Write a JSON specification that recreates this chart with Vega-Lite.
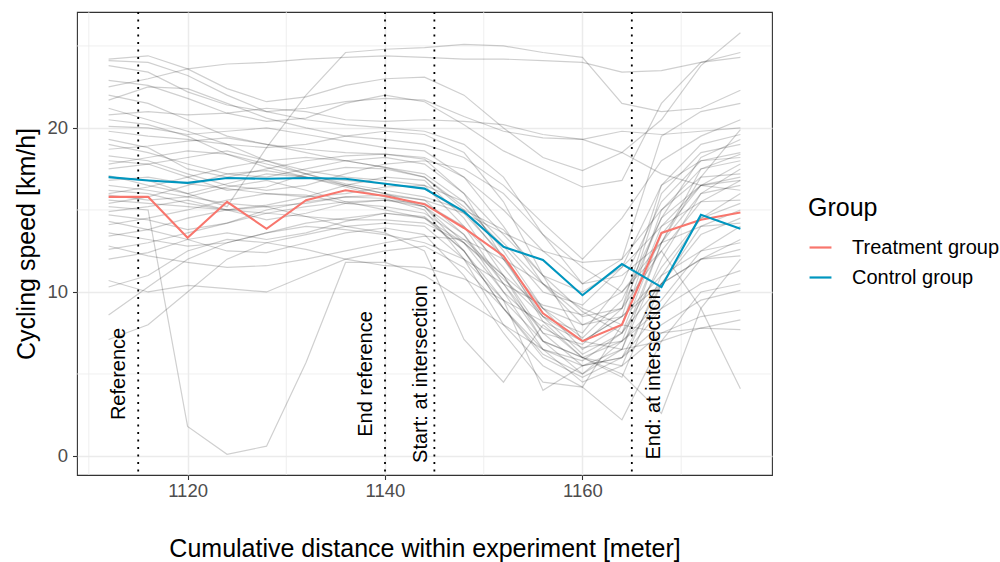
{
"$schema":"https://vega.github.io/schema/vega-lite/v6.json",
"width":695,"height":463,
"autosize":{"type":"none"},
"padding":{"left":77,"top":12,"right":228,"bottom":87},
"config":{"font":"Liberation Sans","view":{"stroke":"#333333","strokeWidth":1.1},
"axis":{"domain":false,"gridColor":"#EBEBEB","gridWidth":1.5,"tickColor":"#333333","tickWidth":1.1,"tickSize":4.5,"labelColor":"#4D4D4D","labelFontSize":18.5,"titleFontSize":25,"titleFontWeight":"normal","titleColor":"#000000"},
"axisX":{"labelPadding":2,"titlePadding":36},
"axisY":{"labelPadding":5,"titlePadding":7}},
"datasets":{
"gray":[
{"id":1,"x":1112,"y":24.2},{"id":1,"x":1116,"y":24.4},{"id":1,"x":1120,"y":23.6},{"id":1,"x":1124,"y":22.4},{"id":1,"x":1128,"y":21.6},{"id":1,"x":1132,"y":21.9},{"id":1,"x":1136,"y":22.6},{"id":1,"x":1140,"y":23.0},{"id":1,"x":1144,"y":23.1},{"id":1,"x":1148,"y":22.0},{"id":1,"x":1152,"y":20.0},{"id":1,"x":1156,"y":18.2},{"id":1,"x":1160,"y":17.4},{"id":1,"x":1164,"y":18.5},{"id":1,"x":1168,"y":20.5},{"id":1,"x":1172,"y":23.8},{"id":1,"x":1176,"y":25.8},
{"id":2,"x":1112,"y":23.8},{"id":2,"x":1116,"y":23.4},{"id":2,"x":1120,"y":22.2},{"id":2,"x":1124,"y":21.4},{"id":2,"x":1128,"y":21.0},{"id":2,"x":1132,"y":21.2},{"id":2,"x":1136,"y":21.6},{"id":2,"x":1140,"y":21.8},{"id":2,"x":1144,"y":21.7},{"id":2,"x":1148,"y":20.7},{"id":2,"x":1152,"y":19.8},{"id":2,"x":1156,"y":19.4},{"id":2,"x":1160,"y":19.3},{"id":2,"x":1164,"y":19.8},{"id":2,"x":1168,"y":19.6},{"id":2,"x":1172,"y":19.8},{"id":2,"x":1176,"y":20.0},
{"id":3,"x":1112,"y":22.9},{"id":3,"x":1116,"y":22.6},{"id":3,"x":1120,"y":21.8},{"id":3,"x":1124,"y":20.9},{"id":3,"x":1128,"y":20.4},{"id":3,"x":1132,"y":20.6},{"id":3,"x":1136,"y":21.5},{"id":3,"x":1140,"y":22.0},{"id":3,"x":1144,"y":21.6},{"id":3,"x":1148,"y":20.2},{"id":3,"x":1152,"y":18.6},{"id":3,"x":1156,"y":17.5},{"id":3,"x":1160,"y":16.4},{"id":3,"x":1164,"y":16.8},{"id":3,"x":1168,"y":21.5},{"id":3,"x":1172,"y":24.0},{"id":3,"x":1176,"y":24.3},
{"id":4,"x":1112,"y":17.0},{"id":4,"x":1116,"y":16.8},{"id":4,"x":1120,"y":16.0},{"id":4,"x":1124,"y":15.2},{"id":4,"x":1128,"y":18.8},{"id":4,"x":1132,"y":22.0},{"id":4,"x":1136,"y":24.6},{"id":4,"x":1140,"y":24.8},{"id":4,"x":1144,"y":24.9},{"id":4,"x":1148,"y":25.1},{"id":4,"x":1152,"y":25.0},{"id":4,"x":1156,"y":24.6},{"id":4,"x":1160,"y":24.3},{"id":4,"x":1164,"y":21.5},{"id":4,"x":1168,"y":21.0},{"id":4,"x":1172,"y":21.2},{"id":4,"x":1176,"y":22.3},
{"id":5,"x":1112,"y":22.5},{"id":5,"x":1116,"y":23.0},{"id":5,"x":1120,"y":23.6},{"id":5,"x":1124,"y":23.9},{"id":5,"x":1128,"y":24.0},{"id":5,"x":1132,"y":24.2},{"id":5,"x":1136,"y":24.3},{"id":5,"x":1140,"y":24.4},{"id":5,"x":1144,"y":24.3},{"id":5,"x":1148,"y":24.2},{"id":5,"x":1152,"y":24.2},{"id":5,"x":1156,"y":24.1},{"id":5,"x":1160,"y":24.0},{"id":5,"x":1164,"y":23.4},{"id":5,"x":1168,"y":23.5},{"id":5,"x":1172,"y":24.0},{"id":5,"x":1176,"y":24.6},
{"id":6,"x":1112,"y":24.1},{"id":6,"x":1116,"y":24.0},{"id":6,"x":1120,"y":23.2},{"id":6,"x":1124,"y":22.0},{"id":6,"x":1128,"y":21.0},{"id":6,"x":1132,"y":20.5},{"id":6,"x":1136,"y":20.2},{"id":6,"x":1140,"y":20.0},{"id":6,"x":1144,"y":19.8},{"id":6,"x":1148,"y":19.0},{"id":6,"x":1152,"y":17.0},{"id":6,"x":1156,"y":13.5},{"id":6,"x":1160,"y":10.5},{"id":6,"x":1164,"y":12.0},{"id":6,"x":1168,"y":19.5},{"id":6,"x":1172,"y":21.0},{"id":6,"x":1176,"y":21.5},
{"id":7,"x":1112,"y":21.7},{"id":7,"x":1116,"y":22.5},{"id":7,"x":1120,"y":22.4},{"id":7,"x":1124,"y":21.5},{"id":7,"x":1128,"y":20.6},{"id":7,"x":1132,"y":20.0},{"id":7,"x":1136,"y":19.5},{"id":7,"x":1140,"y":19.3},{"id":7,"x":1144,"y":19.0},{"id":7,"x":1148,"y":18.2},{"id":7,"x":1152,"y":16.5},{"id":7,"x":1156,"y":14.2},{"id":7,"x":1160,"y":12.0},{"id":7,"x":1164,"y":14.5},{"id":7,"x":1168,"y":18.0},{"id":7,"x":1172,"y":19.5},{"id":7,"x":1176,"y":20.5},
{"id":8,"x":1112,"y":20.8},{"id":8,"x":1116,"y":21.0},{"id":8,"x":1120,"y":20.8},{"id":8,"x":1124,"y":20.9},{"id":8,"x":1128,"y":21.2},{"id":8,"x":1132,"y":21.0},{"id":8,"x":1136,"y":20.5},{"id":8,"x":1140,"y":20.4},{"id":8,"x":1144,"y":20.5},{"id":8,"x":1148,"y":20.4},{"id":8,"x":1152,"y":20.2},{"id":8,"x":1156,"y":19.6},{"id":8,"x":1160,"y":19.3},{"id":8,"x":1164,"y":18.5},{"id":8,"x":1168,"y":17.2},{"id":8,"x":1172,"y":16.5},{"id":8,"x":1176,"y":16.2},
{"id":9,"x":1112,"y":20.1},{"id":9,"x":1116,"y":20.0},{"id":9,"x":1120,"y":19.6},{"id":9,"x":1124,"y":19.8},{"id":9,"x":1128,"y":20.0},{"id":9,"x":1132,"y":19.6},{"id":9,"x":1136,"y":19.2},{"id":9,"x":1140,"y":18.8},{"id":9,"x":1144,"y":18.6},{"id":9,"x":1148,"y":17.0},{"id":9,"x":1152,"y":14.0},{"id":9,"x":1156,"y":10.5},{"id":9,"x":1160,"y":8.0},{"id":9,"x":1164,"y":9.0},{"id":9,"x":1168,"y":14.5},{"id":9,"x":1172,"y":18.2},{"id":9,"x":1176,"y":19.3},
{"id":10,"x":1112,"y":19.8},{"id":10,"x":1116,"y":19.5},{"id":10,"x":1120,"y":19.3},{"id":10,"x":1124,"y":19.0},{"id":10,"x":1128,"y":18.8},{"id":10,"x":1132,"y":19.0},{"id":10,"x":1136,"y":19.5},{"id":10,"x":1140,"y":19.8},{"id":10,"x":1144,"y":19.6},{"id":10,"x":1148,"y":18.5},{"id":10,"x":1152,"y":15.5},{"id":10,"x":1156,"y":11.0},{"id":10,"x":1160,"y":7.0},{"id":10,"x":1164,"y":8.5},{"id":10,"x":1168,"y":16.0},{"id":10,"x":1172,"y":18.5},{"id":10,"x":1176,"y":19.0},
{"id":11,"x":1112,"y":19.3},{"id":11,"x":1116,"y":18.8},{"id":11,"x":1120,"y":17.5},{"id":11,"x":1124,"y":17.0},{"id":11,"x":1128,"y":17.5},{"id":11,"x":1132,"y":18.0},{"id":11,"x":1136,"y":18.3},{"id":11,"x":1140,"y":18.4},{"id":11,"x":1144,"y":18.1},{"id":11,"x":1148,"y":16.0},{"id":11,"x":1152,"y":12.0},{"id":11,"x":1156,"y":8.5},{"id":11,"x":1160,"y":6.2},{"id":11,"x":1164,"y":7.5},{"id":11,"x":1168,"y":13.5},{"id":11,"x":1172,"y":16.5},{"id":11,"x":1176,"y":17.8},
{"id":12,"x":1112,"y":18.7},{"id":12,"x":1116,"y":18.9},{"id":12,"x":1120,"y":19.2},{"id":12,"x":1124,"y":19.4},{"id":12,"x":1128,"y":19.0},{"id":12,"x":1132,"y":18.5},{"id":12,"x":1136,"y":18.0},{"id":12,"x":1140,"y":17.6},{"id":12,"x":1144,"y":17.2},{"id":12,"x":1148,"y":15.5},{"id":12,"x":1152,"y":12.5},{"id":12,"x":1156,"y":9.0},{"id":12,"x":1160,"y":6.5},{"id":12,"x":1164,"y":8.0},{"id":12,"x":1168,"y":15.0},{"id":12,"x":1172,"y":17.5},{"id":12,"x":1176,"y":18.0},
{"id":13,"x":1112,"y":18.0},{"id":13,"x":1116,"y":17.8},{"id":13,"x":1120,"y":18.2},{"id":13,"x":1124,"y":18.6},{"id":13,"x":1128,"y":18.0},{"id":13,"x":1132,"y":17.4},{"id":13,"x":1136,"y":17.0},{"id":13,"x":1140,"y":16.8},{"id":13,"x":1144,"y":16.5},{"id":13,"x":1148,"y":14.0},{"id":13,"x":1152,"y":10.5},{"id":13,"x":1156,"y":7.5},{"id":13,"x":1160,"y":5.5},{"id":13,"x":1164,"y":6.5},{"id":13,"x":1168,"y":12.0},{"id":13,"x":1172,"y":16.0},{"id":13,"x":1176,"y":17.5},
{"id":14,"x":1112,"y":17.5},{"id":14,"x":1116,"y":17.8},{"id":14,"x":1120,"y":17.0},{"id":14,"x":1124,"y":16.2},{"id":14,"x":1128,"y":16.4},{"id":14,"x":1132,"y":17.2},{"id":14,"x":1136,"y":17.6},{"id":14,"x":1140,"y":17.5},{"id":14,"x":1144,"y":17.0},{"id":14,"x":1148,"y":15.0},{"id":14,"x":1152,"y":12.0},{"id":14,"x":1156,"y":9.0},{"id":14,"x":1160,"y":7.2},{"id":14,"x":1164,"y":9.5},{"id":14,"x":1168,"y":14.5},{"id":14,"x":1172,"y":16.5},{"id":14,"x":1176,"y":16.8},
{"id":15,"x":1112,"y":17.1},{"id":15,"x":1116,"y":16.5},{"id":15,"x":1120,"y":16.0},{"id":15,"x":1124,"y":16.6},{"id":15,"x":1128,"y":17.2},{"id":15,"x":1132,"y":17.0},{"id":15,"x":1136,"y":16.5},{"id":15,"x":1140,"y":16.0},{"id":15,"x":1144,"y":15.6},{"id":15,"x":1148,"y":13.5},{"id":15,"x":1152,"y":10.0},{"id":15,"x":1156,"y":6.5},{"id":15,"x":1160,"y":4.5},{"id":15,"x":1164,"y":5.5},{"id":15,"x":1168,"y":11.0},{"id":15,"x":1172,"y":14.5},{"id":15,"x":1176,"y":16.0},
{"id":16,"x":1112,"y":16.8},{"id":16,"x":1116,"y":17.0},{"id":16,"x":1120,"y":16.6},{"id":16,"x":1124,"y":16.3},{"id":16,"x":1128,"y":16.0},{"id":16,"x":1132,"y":15.8},{"id":16,"x":1136,"y":16.0},{"id":16,"x":1140,"y":16.4},{"id":16,"x":1144,"y":16.5},{"id":16,"x":1148,"y":15.5},{"id":16,"x":1152,"y":13.0},{"id":16,"x":1156,"y":10.5},{"id":16,"x":1160,"y":8.5},{"id":16,"x":1164,"y":9.0},{"id":16,"x":1168,"y":12.5},{"id":16,"x":1172,"y":15.5},{"id":16,"x":1176,"y":15.6},
{"id":17,"x":1112,"y":16.2},{"id":17,"x":1116,"y":16.0},{"id":17,"x":1120,"y":15.4},{"id":17,"x":1124,"y":15.0},{"id":17,"x":1128,"y":15.3},{"id":17,"x":1132,"y":15.8},{"id":17,"x":1136,"y":16.5},{"id":17,"x":1140,"y":17.0},{"id":17,"x":1144,"y":16.8},{"id":17,"x":1148,"y":14.5},{"id":17,"x":1152,"y":11.0},{"id":17,"x":1156,"y":7.0},{"id":17,"x":1160,"y":5.0},{"id":17,"x":1164,"y":7.0},{"id":17,"x":1168,"y":13.0},{"id":17,"x":1172,"y":17.0},{"id":17,"x":1176,"y":19.9},
{"id":18,"x":1112,"y":15.9},{"id":18,"x":1116,"y":15.6},{"id":18,"x":1120,"y":15.8},{"id":18,"x":1124,"y":16.4},{"id":18,"x":1128,"y":16.8},{"id":18,"x":1132,"y":16.2},{"id":18,"x":1136,"y":15.5},{"id":18,"x":1140,"y":15.0},{"id":18,"x":1144,"y":14.5},{"id":18,"x":1148,"y":12.5},{"id":18,"x":1152,"y":9.5},{"id":18,"x":1156,"y":4.0},{"id":18,"x":1160,"y":5.5},{"id":18,"x":1164,"y":6.0},{"id":18,"x":1168,"y":10.5},{"id":18,"x":1172,"y":13.5},{"id":18,"x":1176,"y":14.5},
{"id":19,"x":1112,"y":15.4},{"id":19,"x":1116,"y":15.8},{"id":19,"x":1120,"y":16.5},{"id":19,"x":1124,"y":17.2},{"id":19,"x":1128,"y":17.4},{"id":19,"x":1132,"y":17.0},{"id":19,"x":1136,"y":16.4},{"id":19,"x":1140,"y":15.8},{"id":19,"x":1144,"y":15.2},{"id":19,"x":1148,"y":13.0},{"id":19,"x":1152,"y":10.0},{"id":19,"x":1156,"y":7.8},{"id":19,"x":1160,"y":6.6},{"id":19,"x":1164,"y":7.0},{"id":19,"x":1168,"y":9.0},{"id":19,"x":1172,"y":12.0},{"id":19,"x":1176,"y":13.2},
{"id":20,"x":1112,"y":14.9},{"id":20,"x":1116,"y":15.2},{"id":20,"x":1120,"y":15.6},{"id":20,"x":1124,"y":15.0},{"id":20,"x":1128,"y":14.4},{"id":20,"x":1132,"y":14.8},{"id":20,"x":1136,"y":15.4},{"id":20,"x":1140,"y":15.6},{"id":20,"x":1144,"y":15.4},{"id":20,"x":1148,"y":14.0},{"id":20,"x":1152,"y":11.5},{"id":20,"x":1156,"y":8.5},{"id":20,"x":1160,"y":7.5},{"id":20,"x":1164,"y":10.5},{"id":20,"x":1168,"y":15.5},{"id":20,"x":1172,"y":18.0},{"id":20,"x":1176,"y":18.5},
{"id":21,"x":1112,"y":14.7},{"id":21,"x":1116,"y":14.4},{"id":21,"x":1120,"y":13.8},{"id":21,"x":1124,"y":14.2},{"id":21,"x":1128,"y":15.0},{"id":21,"x":1132,"y":15.5},{"id":21,"x":1136,"y":15.8},{"id":21,"x":1140,"y":15.7},{"id":21,"x":1144,"y":15.0},{"id":21,"x":1148,"y":12.0},{"id":21,"x":1152,"y":8.0},{"id":21,"x":1156,"y":5.5},{"id":21,"x":1160,"y":4.2},{"id":21,"x":1164,"y":8.0},{"id":21,"x":1168,"y":14.0},{"id":21,"x":1172,"y":16.5},{"id":21,"x":1176,"y":17.0},
{"id":22,"x":1112,"y":14.1},{"id":22,"x":1116,"y":14.5},{"id":22,"x":1120,"y":15.0},{"id":22,"x":1124,"y":15.6},{"id":22,"x":1128,"y":16.0},{"id":22,"x":1132,"y":15.9},{"id":22,"x":1136,"y":15.4},{"id":22,"x":1140,"y":15.2},{"id":22,"x":1144,"y":14.8},{"id":22,"x":1148,"y":13.2},{"id":22,"x":1152,"y":11.0},{"id":22,"x":1156,"y":9.0},{"id":22,"x":1160,"y":8.0},{"id":22,"x":1164,"y":8.5},{"id":22,"x":1168,"y":10.5},{"id":22,"x":1172,"y":12.0},{"id":22,"x":1176,"y":12.6},
{"id":23,"x":1112,"y":13.4},{"id":23,"x":1116,"y":13.8},{"id":23,"x":1120,"y":14.5},{"id":23,"x":1124,"y":15.0},{"id":23,"x":1128,"y":15.2},{"id":23,"x":1132,"y":14.6},{"id":23,"x":1136,"y":14.0},{"id":23,"x":1140,"y":13.6},{"id":23,"x":1144,"y":12.5},{"id":23,"x":1148,"y":7.1},{"id":23,"x":1152,"y":4.5},{"id":23,"x":1156,"y":8.0},{"id":23,"x":1160,"y":6.0},{"id":23,"x":1164,"y":5.5},{"id":23,"x":1168,"y":7.5},{"id":23,"x":1172,"y":8.5},{"id":23,"x":1176,"y":8.9},
{"id":24,"x":1112,"y":12.6},{"id":24,"x":1116,"y":13.0},{"id":24,"x":1120,"y":13.6},{"id":24,"x":1124,"y":14.2},{"id":24,"x":1128,"y":14.8},{"id":24,"x":1132,"y":15.2},{"id":24,"x":1136,"y":15.5},{"id":24,"x":1140,"y":15.6},{"id":24,"x":1144,"y":15.2},{"id":24,"x":1148,"y":13.5},{"id":24,"x":1152,"y":10.5},{"id":24,"x":1156,"y":7.0},{"id":24,"x":1160,"y":6.0},{"id":24,"x":1164,"y":7.0},{"id":24,"x":1168,"y":9.5},{"id":24,"x":1172,"y":12.5},{"id":24,"x":1176,"y":14.0},
{"id":25,"x":1112,"y":12.0},{"id":25,"x":1116,"y":12.4},{"id":25,"x":1120,"y":13.2},{"id":25,"x":1124,"y":13.6},{"id":25,"x":1128,"y":13.2},{"id":25,"x":1132,"y":13.6},{"id":25,"x":1136,"y":14.3},{"id":25,"x":1140,"y":14.8},{"id":25,"x":1144,"y":14.6},{"id":25,"x":1148,"y":12.5},{"id":25,"x":1152,"y":9.0},{"id":25,"x":1156,"y":6.0},{"id":25,"x":1160,"y":4.8},{"id":25,"x":1164,"y":6.0},{"id":25,"x":1168,"y":9.0},{"id":25,"x":1172,"y":10.5},{"id":25,"x":1176,"y":11.3},
{"id":26,"x":1112,"y":19.0},{"id":26,"x":1116,"y":18.5},{"id":26,"x":1120,"y":17.8},{"id":26,"x":1124,"y":17.2},{"id":26,"x":1128,"y":17.0},{"id":26,"x":1132,"y":17.5},{"id":26,"x":1136,"y":18.0},{"id":26,"x":1140,"y":18.2},{"id":26,"x":1144,"y":17.8},{"id":26,"x":1148,"y":16.0},{"id":26,"x":1152,"y":13.5},{"id":26,"x":1156,"y":11.0},{"id":26,"x":1160,"y":10.0},{"id":26,"x":1164,"y":11.5},{"id":26,"x":1168,"y":16.5},{"id":26,"x":1172,"y":19.0},{"id":26,"x":1176,"y":19.6},
{"id":27,"x":1112,"y":18.3},{"id":27,"x":1116,"y":18.0},{"id":27,"x":1120,"y":17.2},{"id":27,"x":1124,"y":16.5},{"id":27,"x":1128,"y":16.2},{"id":27,"x":1132,"y":16.5},{"id":27,"x":1136,"y":17.2},{"id":27,"x":1140,"y":17.8},{"id":27,"x":1144,"y":18.0},{"id":27,"x":1148,"y":17.5},{"id":27,"x":1152,"y":16.0},{"id":27,"x":1156,"y":13.5},{"id":27,"x":1160,"y":11.5},{"id":27,"x":1164,"y":10.0},{"id":27,"x":1168,"y":13.0},{"id":27,"x":1172,"y":17.5},{"id":27,"x":1176,"y":18.4},
{"id":28,"x":1112,"y":16.5},{"id":28,"x":1116,"y":16.2},{"id":28,"x":1120,"y":15.8},{"id":28,"x":1124,"y":15.4},{"id":28,"x":1128,"y":15.2},{"id":28,"x":1132,"y":15.4},{"id":28,"x":1136,"y":15.8},{"id":28,"x":1140,"y":15.9},{"id":28,"x":1144,"y":15.6},{"id":28,"x":1148,"y":14.8},{"id":28,"x":1152,"y":13.6},{"id":28,"x":1156,"y":12.5},{"id":28,"x":1160,"y":11.8},{"id":28,"x":1164,"y":12.0},{"id":28,"x":1168,"y":15.0},{"id":28,"x":1172,"y":17.0},{"id":28,"x":1176,"y":17.2},
{"id":29,"x":1112,"y":21.2},{"id":29,"x":1116,"y":20.5},{"id":29,"x":1120,"y":19.8},{"id":29,"x":1124,"y":19.0},{"id":29,"x":1128,"y":18.0},{"id":29,"x":1132,"y":17.2},{"id":29,"x":1136,"y":16.5},{"id":29,"x":1140,"y":16.0},{"id":29,"x":1144,"y":15.2},{"id":29,"x":1148,"y":12.5},{"id":29,"x":1152,"y":9.0},{"id":29,"x":1156,"y":6.2},{"id":29,"x":1160,"y":5.0},{"id":29,"x":1164,"y":6.5},{"id":29,"x":1168,"y":13.0},{"id":29,"x":1172,"y":16.0},{"id":29,"x":1176,"y":16.5},
{"id":30,"x":1112,"y":20.5},{"id":30,"x":1116,"y":20.2},{"id":30,"x":1120,"y":19.5},{"id":30,"x":1124,"y":18.4},{"id":30,"x":1128,"y":17.6},{"id":30,"x":1132,"y":17.0},{"id":30,"x":1136,"y":16.8},{"id":30,"x":1140,"y":16.6},{"id":30,"x":1144,"y":16.3},{"id":30,"x":1148,"y":14.8},{"id":30,"x":1152,"y":12.2},{"id":30,"x":1156,"y":8.2},{"id":30,"x":1160,"y":6.0},{"id":30,"x":1164,"y":4.8},{"id":30,"x":1168,"y":10.5},{"id":30,"x":1172,"y":14.0},{"id":30,"x":1176,"y":15.0},
{"id":31,"x":1112,"y":15.2},{"id":31,"x":1116,"y":15.0},{"id":31,"x":1120,"y":1.8},{"id":31,"x":1124,"y":0.1},{"id":31,"x":1128,"y":0.6},{"id":31,"x":1132,"y":5.7},{"id":31,"x":1136,"y":11.8},{"id":31,"x":1140,"y":11.8},{"id":31,"x":1144,"y":11.0},{"id":31,"x":1148,"y":9.5},{"id":31,"x":1152,"y":8.0},{"id":31,"x":1156,"y":6.5},{"id":31,"x":1160,"y":5.5},{"id":31,"x":1164,"y":6.0},{"id":31,"x":1168,"y":8.0},{"id":31,"x":1172,"y":9.5},{"id":31,"x":1176,"y":10.1},
{"id":32,"x":1112,"y":8.6},{"id":32,"x":1116,"y":10.3},{"id":32,"x":1120,"y":12.0},{"id":32,"x":1124,"y":13.0},{"id":32,"x":1128,"y":13.6},{"id":32,"x":1132,"y":14.2},{"id":32,"x":1136,"y":14.5},{"id":32,"x":1140,"y":14.8},{"id":32,"x":1144,"y":14.5},{"id":32,"x":1148,"y":13.0},{"id":32,"x":1152,"y":10.8},{"id":32,"x":1156,"y":8.5},{"id":32,"x":1160,"y":7.0},{"id":32,"x":1164,"y":8.5},{"id":32,"x":1168,"y":11.0},{"id":32,"x":1172,"y":12.5},{"id":32,"x":1176,"y":13.0},
{"id":33,"x":1112,"y":7.1},{"id":33,"x":1116,"y":8.0},{"id":33,"x":1120,"y":10.0},{"id":33,"x":1124,"y":12.0},{"id":33,"x":1128,"y":13.0},{"id":33,"x":1132,"y":13.5},{"id":33,"x":1136,"y":14.0},{"id":33,"x":1140,"y":14.2},{"id":33,"x":1144,"y":14.0},{"id":33,"x":1148,"y":12.0},{"id":33,"x":1152,"y":9.5},{"id":33,"x":1156,"y":7.0},{"id":33,"x":1160,"y":6.0},{"id":33,"x":1164,"y":5.0},{"id":33,"x":1168,"y":2.6},{"id":33,"x":1172,"y":9.0},{"id":33,"x":1176,"y":12.0},
{"id":34,"x":1112,"y":10.7},{"id":34,"x":1116,"y":10.0},{"id":34,"x":1120,"y":10.4},{"id":34,"x":1124,"y":10.2},{"id":34,"x":1128,"y":10.0},{"id":34,"x":1132,"y":11.0},{"id":34,"x":1136,"y":12.0},{"id":34,"x":1140,"y":12.5},{"id":34,"x":1144,"y":12.8},{"id":34,"x":1148,"y":11.5},{"id":34,"x":1152,"y":9.0},{"id":34,"x":1156,"y":6.5},{"id":34,"x":1160,"y":5.8},{"id":34,"x":1164,"y":7.5},{"id":34,"x":1168,"y":10.5},{"id":34,"x":1172,"y":12.0},{"id":34,"x":1176,"y":12.2},
{"id":35,"x":1112,"y":10.3},{"id":35,"x":1116,"y":11.0},{"id":35,"x":1120,"y":12.5},{"id":35,"x":1124,"y":13.2},{"id":35,"x":1128,"y":13.0},{"id":35,"x":1132,"y":12.6},{"id":35,"x":1136,"y":12.0},{"id":35,"x":1140,"y":11.6},{"id":35,"x":1144,"y":11.5},{"id":35,"x":1148,"y":10.8},{"id":35,"x":1152,"y":9.5},{"id":35,"x":1156,"y":8.2},{"id":35,"x":1160,"y":7.0},{"id":35,"x":1164,"y":6.5},{"id":35,"x":1168,"y":7.0},{"id":35,"x":1172,"y":7.8},{"id":35,"x":1176,"y":8.3},
{"id":36,"x":1112,"y":13.6},{"id":36,"x":1116,"y":13.2},{"id":36,"x":1120,"y":12.8},{"id":36,"x":1124,"y":13.0},{"id":36,"x":1128,"y":13.6},{"id":36,"x":1132,"y":14.0},{"id":36,"x":1136,"y":13.8},{"id":36,"x":1140,"y":13.5},{"id":36,"x":1144,"y":13.0},{"id":36,"x":1148,"y":12.0},{"id":36,"x":1152,"y":10.5},{"id":36,"x":1156,"y":9.2},{"id":36,"x":1160,"y":8.6},{"id":36,"x":1164,"y":10.0},{"id":36,"x":1168,"y":12.5},{"id":36,"x":1172,"y":9.0},{"id":36,"x":1176,"y":4.1},
{"id":37,"x":1112,"y":12.8},{"id":37,"x":1116,"y":12.2},{"id":37,"x":1120,"y":11.8},{"id":37,"x":1124,"y":11.5},{"id":37,"x":1128,"y":11.6},{"id":37,"x":1132,"y":12.0},{"id":37,"x":1136,"y":12.5},{"id":37,"x":1140,"y":13.0},{"id":37,"x":1144,"y":13.4},{"id":37,"x":1148,"y":13.2},{"id":37,"x":1152,"y":12.0},{"id":37,"x":1156,"y":10.5},{"id":37,"x":1160,"y":9.0},{"id":37,"x":1164,"y":8.0},{"id":37,"x":1168,"y":7.5},{"id":37,"x":1172,"y":7.8},{"id":37,"x":1176,"y":7.7},
{"id":38,"x":1112,"y":14.3},{"id":38,"x":1116,"y":13.8},{"id":38,"x":1120,"y":13.2},{"id":38,"x":1124,"y":12.5},{"id":38,"x":1128,"y":12.4},{"id":38,"x":1132,"y":13.0},{"id":38,"x":1136,"y":13.6},{"id":38,"x":1140,"y":13.9},{"id":38,"x":1144,"y":13.5},{"id":38,"x":1148,"y":11.0},{"id":38,"x":1152,"y":7.5},{"id":38,"x":1156,"y":4.5},{"id":38,"x":1160,"y":4.2},{"id":38,"x":1164,"y":2.2},{"id":38,"x":1168,"y":7.0},{"id":38,"x":1172,"y":10.0},{"id":38,"x":1176,"y":10.5},
{"id":39,"x":1112,"y":17.8},{"id":39,"x":1116,"y":18.2},{"id":39,"x":1120,"y":18.6},{"id":39,"x":1124,"y":18.4},{"id":39,"x":1128,"y":17.8},{"id":39,"x":1132,"y":17.2},{"id":39,"x":1136,"y":16.6},{"id":39,"x":1140,"y":16.2},{"id":39,"x":1144,"y":15.8},{"id":39,"x":1148,"y":15.0},{"id":39,"x":1152,"y":13.8},{"id":39,"x":1156,"y":11.0},{"id":39,"x":1160,"y":8.8},{"id":39,"x":1164,"y":7.5},{"id":39,"x":1168,"y":11.5},{"id":39,"x":1172,"y":14.5},{"id":39,"x":1176,"y":15.4},
{"id":40,"x":1112,"y":16.0},{"id":40,"x":1116,"y":16.4},{"id":40,"x":1120,"y":17.0},{"id":40,"x":1124,"y":17.6},{"id":40,"x":1128,"y":18.0},{"id":40,"x":1132,"y":18.2},{"id":40,"x":1136,"y":18.0},{"id":40,"x":1140,"y":17.6},{"id":40,"x":1144,"y":17.0},{"id":40,"x":1148,"y":15.2},{"id":40,"x":1152,"y":12.8},{"id":40,"x":1156,"y":10.0},{"id":40,"x":1160,"y":9.2},{"id":40,"x":1164,"y":11.5},{"id":40,"x":1168,"y":14.0},{"id":40,"x":1172,"y":15.5},{"id":40,"x":1176,"y":16.8},
{"id":41,"x":1112,"y":22.0},{"id":41,"x":1116,"y":21.5},{"id":41,"x":1120,"y":20.5},{"id":41,"x":1124,"y":19.5},{"id":41,"x":1128,"y":19.0},{"id":41,"x":1132,"y":18.7},{"id":41,"x":1136,"y":18.5},{"id":41,"x":1140,"y":18.4},{"id":41,"x":1144,"y":18.2},{"id":41,"x":1148,"y":17.0},{"id":41,"x":1152,"y":15.0},{"id":41,"x":1156,"y":12.5},{"id":41,"x":1160,"y":10.5},{"id":41,"x":1164,"y":11.0},{"id":41,"x":1168,"y":13.0},{"id":41,"x":1172,"y":14.0},{"id":41,"x":1176,"y":14.2},
{"id":42,"x":1112,"y":15.6},{"id":42,"x":1116,"y":15.4},{"id":42,"x":1120,"y":15.2},{"id":42,"x":1124,"y":15.0},{"id":42,"x":1128,"y":14.8},{"id":42,"x":1132,"y":14.6},{"id":42,"x":1136,"y":14.4},{"id":42,"x":1140,"y":14.4},{"id":42,"x":1144,"y":14.2},{"id":42,"x":1148,"y":13.0},{"id":42,"x":1152,"y":11.0},{"id":42,"x":1156,"y":7.5},{"id":42,"x":1160,"y":6.8},{"id":42,"x":1164,"y":9.0},{"id":42,"x":1168,"y":16.5},{"id":42,"x":1172,"y":18.0},{"id":42,"x":1176,"y":18.2}
],
"means":[
{"group":"Treatment group","x":1112,"y":15.8},{"group":"Treatment group","x":1116,"y":15.8},{"group":"Treatment group","x":1120,"y":13.3},{"group":"Treatment group","x":1124,"y":15.5},{"group":"Treatment group","x":1128,"y":13.85},{"group":"Treatment group","x":1132,"y":15.6},{"group":"Treatment group","x":1136,"y":16.2},{"group":"Treatment group","x":1140,"y":15.85},{"group":"Treatment group","x":1144,"y":15.35},{"group":"Treatment group","x":1148,"y":13.9},{"group":"Treatment group","x":1152,"y":12.2},{"group":"Treatment group","x":1156,"y":8.7},{"group":"Treatment group","x":1160,"y":7.0},{"group":"Treatment group","x":1164,"y":8.0},{"group":"Treatment group","x":1168,"y":13.6},{"group":"Treatment group","x":1172,"y":14.4},{"group":"Treatment group","x":1176,"y":14.85},
{"group":"Control group","x":1112,"y":17.0},{"group":"Control group","x":1116,"y":16.8},{"group":"Control group","x":1120,"y":16.65},{"group":"Control group","x":1124,"y":16.95},{"group":"Control group","x":1128,"y":16.9},{"group":"Control group","x":1132,"y":16.95},{"group":"Control group","x":1136,"y":16.9},{"group":"Control group","x":1140,"y":16.6},{"group":"Control group","x":1144,"y":16.3},{"group":"Control group","x":1148,"y":14.9},{"group":"Control group","x":1152,"y":12.75},{"group":"Control group","x":1156,"y":11.95},{"group":"Control group","x":1160,"y":9.8},{"group":"Control group","x":1164,"y":11.7},{"group":"Control group","x":1168,"y":10.3},{"group":"Control group","x":1172,"y":14.7},{"group":"Control group","x":1176,"y":13.85}
],
"vlines":[{"x":1115},{"x":1140},{"x":1145},{"x":1165}],
"labels":[{"label":"Reference","x":1113.1,"y":5},{"label":"End reference","x":1138.1,"y":5},{"label":"Start: at intersection","x":1143.6,"y":5},{"label":"End: at intersection","x":1167.2,"y":5}],
"minorx":[{"x":1110},{"x":1130},{"x":1150},{"x":1170}],
"minory":[{"y":5},{"y":15},{"y":25}]
},
"layer":[
{"data":{"name":"minorx"},"mark":{"type":"rule","color":"#EBEBEB","strokeWidth":0.8},
 "encoding":{"x":{"field":"x","type":"quantitative","scale":{"domain":[1108.8,1179.2],"nice":false,"zero":false},"axis":{"values":[1120,1140,1160],"format":"d"},"title":"Cumulative distance within experiment [meter]"}}},
{"data":{"name":"minory"},"mark":{"type":"rule","color":"#EBEBEB","strokeWidth":0.8},
 "encoding":{"y":{"field":"y","type":"quantitative","scale":{"domain":[-1.16,27.07],"nice":false,"zero":false},"axis":{"values":[0,10,20]},"title":"Cycling speed [km/h]"}}},
{"data":{"name":"gray"},"mark":{"type":"line","stroke":"#000000","strokeOpacity":0.19,"strokeWidth":1.2},
 "encoding":{"x":{"field":"x","type":"quantitative","scale":{"domain":[1108.8,1179.2],"nice":false,"zero":false},"axis":{"values":[1120,1140,1160],"format":"d"},"title":"Cumulative distance within experiment [meter]"},
 "y":{"field":"y","type":"quantitative","scale":{"domain":[-1.16,27.07],"nice":false,"zero":false},"axis":{"values":[0,10,20]},"title":"Cycling speed [km/h]"},
 "detail":{"field":"id","type":"nominal"}}},
{"data":{"name":"means"},"mark":{"type":"line","strokeWidth":2.1},
 "encoding":{"x":{"field":"x","type":"quantitative","scale":{"domain":[1108.8,1179.2],"nice":false,"zero":false},"axis":{"values":[1120,1140,1160],"format":"d"},"title":"Cumulative distance within experiment [meter]"},
 "y":{"field":"y","type":"quantitative","scale":{"domain":[-1.16,27.07],"nice":false,"zero":false},"axis":{"values":[0,10,20]},"title":"Cycling speed [km/h]"},
 "color":{"field":"group","type":"nominal","scale":{"domain":["Treatment group","Control group"],"range":["#F8766D","#0096BF"]},
  "legend":{"title":"Group","orient":"none","legendX":731,"legendY":184,"titleFontSize":25,"titleFontWeight":"normal","titleColor":"#000000","titlePadding":14,"labelFontSize":20,"labelColor":"#000000","labelLimit":400,"labelOffset":19,"symbolType":"stroke","symbolSize":480,"symbolStrokeWidth":2.2,"rowPadding":7}}}},
{"data":{"name":"vlines"},"mark":{"type":"rule","color":"#000000","strokeWidth":1.8,"strokeDash":[2,5.5]},
 "encoding":{"x":{"field":"x","type":"quantitative","scale":{"domain":[1108.8,1179.2],"nice":false,"zero":false},"axis":{"values":[1120,1140,1160],"format":"d"},"title":"Cumulative distance within experiment [meter]"}}},
{"data":{"name":"labels"},"mark":{"type":"text","angle":270,"align":"center","baseline":"middle","fontSize":20,"color":"#000000"},
 "encoding":{"x":{"field":"x","type":"quantitative","scale":{"domain":[1108.8,1179.2],"nice":false,"zero":false},"axis":{"values":[1120,1140,1160],"format":"d"},"title":"Cumulative distance within experiment [meter]"},
 "y":{"field":"y","type":"quantitative","scale":{"domain":[-1.16,27.07],"nice":false,"zero":false},"axis":{"values":[0,10,20]},"title":"Cycling speed [km/h]"},
 "text":{"field":"label","type":"nominal"}}}
]
}
